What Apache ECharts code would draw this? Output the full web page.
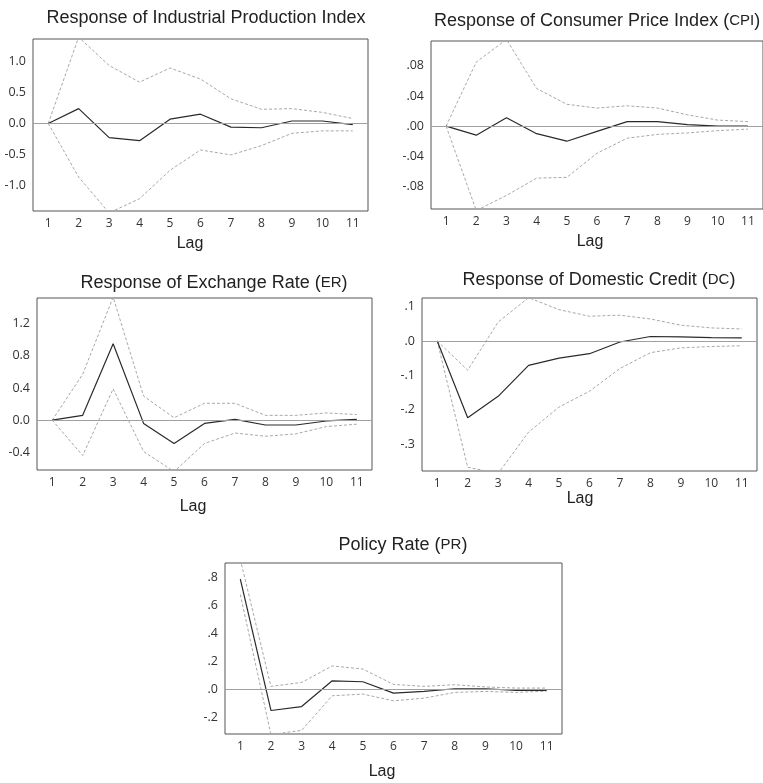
<!DOCTYPE html>
<html>
<head>
<meta charset="utf-8">
<script src="https://cdn.jsdelivr.net/npm/echarts@6/dist/echarts.min.js"></script>
<style>
html,body{margin:0;padding:0;background:#fff;}
#chart{width:763px;height:783px;}
</style>
</head>
<body>
<div id="chart"></div>
<script>
// Lags (categories)
const lags = ['1','2','3','4','5','6','7','8','9','10','11'];

// Response of Industrial Production Index
const ipiResp  = [0, 0.24, -0.23, -0.28, 0.07, 0.15, -0.06, -0.07, 0.04, 0.04, -0.02];
const ipiUpper = [0, 1.40, 0.94, 0.67, 0.90, 0.72, 0.40, 0.23, 0.24, 0.18, 0.08];
const ipiLower = [0, -0.87, -1.45, -1.22, -0.76, -0.43, -0.51, -0.36, -0.16, -0.12, -0.12];
const ipiTicks = [-1.0, -0.5, 0.0, 0.5, 1.0];

// Response of Consumer Price Index (CPI)
const cpiResp  = [0, -0.012, 0.011, -0.010, -0.020, -0.007, 0.006, 0.006, 0.002, 0.000, 0.000];
const cpiUpper = [0, 0.085, 0.115, 0.050, 0.029, 0.024, 0.027, 0.024, 0.015, 0.008, 0.006];
const cpiLower = [0, -0.112, -0.092, -0.069, -0.068, -0.036, -0.016, -0.011, -0.009, -0.006, -0.004];
const cpiTicks = [-0.08, -0.04, 0.00, 0.04, 0.08];

// Response of Exchange Rate (ER)
const erResp  = [0, 0.06, 0.95, -0.04, -0.29, -0.04, 0.01, -0.06, -0.06, -0.01, 0.01];
const erUpper = [0, 0.57, 1.53, 0.30, 0.03, 0.21, 0.21, 0.06, 0.06, 0.09, 0.07];
const erLower = [0, -0.44, 0.39, -0.39, -0.64, -0.29, -0.16, -0.20, -0.17, -0.08, -0.05];
const erTicks = [-0.4, 0.0, 0.4, 0.8, 1.2];

// Response of Domestic Credit (DC)
const dcResp  = [0, -0.223, -0.161, -0.071, -0.050, -0.037, -0.003, 0.013, 0.012, 0.010, 0.009];
const dcUpper = [0, -0.085, 0.055, 0.126, 0.091, 0.072, 0.075, 0.064, 0.046, 0.038, 0.035];
const dcLower = [0, -0.367, -0.385, -0.265, -0.192, -0.146, -0.080, -0.034, -0.020, -0.016, -0.014];
const dcTicks = [-0.3, -0.2, -0.1, 0.0, 0.1];

// Policy Rate (PR)
const prResp  = [0.79, -0.148, -0.120, 0.064, 0.057, -0.024, -0.012, 0.007, 0.007, -0.005, -0.004];
const prUpper = [0.93, 0.024, 0.052, 0.170, 0.148, 0.038, 0.024, 0.036, 0.020, 0.012, 0.012];
const prLower = [0.68, -0.320, -0.290, -0.043, -0.031, -0.079, -0.060, -0.019, -0.012, -0.019, -0.010];
const prTicks = [-0.2, 0.0, 0.2, 0.4, 0.6, 0.8];

const fmt1 = v => v.toFixed(1);
const fmtNoLead = d => v => {
  const s = Math.abs(v).toFixed(d).replace(/^0/, '');
  return (v < -1e-9 ? '-' : '') + s;
};

const panels = [
  {title: [{t:'Response of Industrial Production Index'}], resp: ipiResp, up: ipiUpper, lo: ipiLower, ticks: ipiTicks, min: -1.42, max: 1.37, fmt: fmt1,
   grid: {left: 33, top: 39, width: 335, height: 172}, titleX: 201, titleY: 4, titleAlign: 'center', lagX: 185, lagY: 231},
  {title: [{t:'Response of Consumer Price Index '},{t:'(',p:1},{t:'CPI',s:1},{t:')',p:1}], resp: cpiResp, up: cpiUpper, lo: cpiLower, ticks: cpiTicks, min: -0.110, max: 0.113, fmt: fmtNoLead(2),
   grid: {left: 431, top: 41, width: 344, height: 168}, titleX: 429, titleY: 7, titleAlign: 'left', lagX: 585, lagY: 229},
  {title: [{t:'Response of Exchange Rate '},{t:'(',p:1},{t:'ER',s:1},{t:')',p:1}], resp: erResp, up: erUpper, lo: erLower, ticks: erTicks, min: -0.62, max: 1.52, fmt: fmt1,
   grid: {left: 37, top: 298, width: 335, height: 172}, titleX: 209, titleY: 269, titleAlign: 'center', lagX: 188, lagY: 494},
  {title: [{t:'Response of Domestic Credit '},{t:'(',p:1},{t:'DC',s:1},{t:')',p:1}], resp: dcResp, up: dcUpper, lo: dcLower, ticks: dcTicks, min: -0.378, max: 0.125, fmt: fmtNoLead(1),
   grid: {left: 422, top: 298, width: 335, height: 173}, titleX: 594, titleY: 266, titleAlign: 'center', lagX: 575, lagY: 486},
  {title: [{t:'Policy Rate '},{t:'(',p:1},{t:'PR',s:1},{t:')',p:1}], resp: prResp, up: prUpper, lo: prLower, ticks: prTicks, min: -0.316, max: 0.905, fmt: fmtNoLead(1),
   grid: {left: 225, top: 563, width: 337, height: 171}, titleX: 398, titleY: 531, titleAlign: 'center', lagX: 377, lagY: 759}
];

const option = {
  animation: false,
  backgroundColor: '#fff',
  title: [], grid: [], xAxis: [], yAxis: [], series: []
};

const titleFont = 'Liberation Sans, Arial, sans-serif';
const tickFont = 'Open Sans, Noto Sans, sans-serif';

panels.forEach((p, i) => {
  const g = p.grid;
  option.grid.push({left: g.left, top: g.top, width: g.width, height: g.height, show: true, borderColor: '#555', borderWidth: 1, backgroundColor: 'transparent'});
  const text = p.title.map(part => {
    const st = part.s ? 'sm' : 'n';
    return '{' + st + '|' + part.t + '}';
  }).join('');
  option.title.push({
    text: text,
    left: p.titleX,
    top: p.titleY,
    textAlign: p.titleAlign,
    textStyle: {
      fontWeight: 'normal',
      rich: {
        n: {fontFamily: titleFont, fontSize: 18, fontWeight: 'normal', color: '#222'},
        sm: {fontFamily: titleFont, fontSize: 15, fontWeight: 'normal', color: '#222'}
      }
    }
  });
  option.title.push({
    text: 'Lag',
    left: p.lagX,
    top: p.lagY,
    textAlign: 'center',
    textStyle: {fontFamily: titleFont, fontSize: 16, fontWeight: 'normal', color: '#222'}
  });
  option.xAxis.push({
    type: 'category', gridIndex: i, data: lags, boundaryGap: true,
    axisLine: {show: false}, axisTick: {show: false}, splitLine: {show: false},
    axisLabel: {fontFamily: tickFont, fontSize: 12, color: '#333', margin: 7, interval: 0}
  });
  option.yAxis.push({
    type: 'value', gridIndex: i, min: p.min, max: p.max,
    axisLine: {show: false}, axisTick: {show: false}, splitLine: {show: false},
    axisLabel: {fontFamily: tickFont, fontSize: 12.5, color: '#333', margin: 7, customValues: p.ticks, formatter: p.fmt}
  });
  const dashed = {color: '#a8a8a8', width: 1, type: [3, 2]};
  option.series.push({
    type: 'line', xAxisIndex: i, yAxisIndex: i, data: p.up, symbol: 'none', clip: true,
    lineStyle: dashed, silent: true, z: 2
  });
  option.series.push({
    type: 'line', xAxisIndex: i, yAxisIndex: i, data: p.lo, symbol: 'none', clip: true,
    lineStyle: dashed, silent: true, z: 2
  });
  option.series.push({
    type: 'line', xAxisIndex: i, yAxisIndex: i, data: p.resp, symbol: 'none', clip: true,
    lineStyle: {color: '#2a2a2a', width: 1.2}, silent: true, z: 3,
    markLine: {
      silent: true, symbol: ['none', 'none'], label: {show: false},
      lineStyle: {color: '#a0a0a0', width: 1, type: 'solid'},
      data: [{yAxis: 0}], animation: false
    }
  });
});

const chart = echarts.init(document.getElementById('chart'), null, {renderer: 'canvas'});
chart.setOption(option);
</script>
</body>
</html>
